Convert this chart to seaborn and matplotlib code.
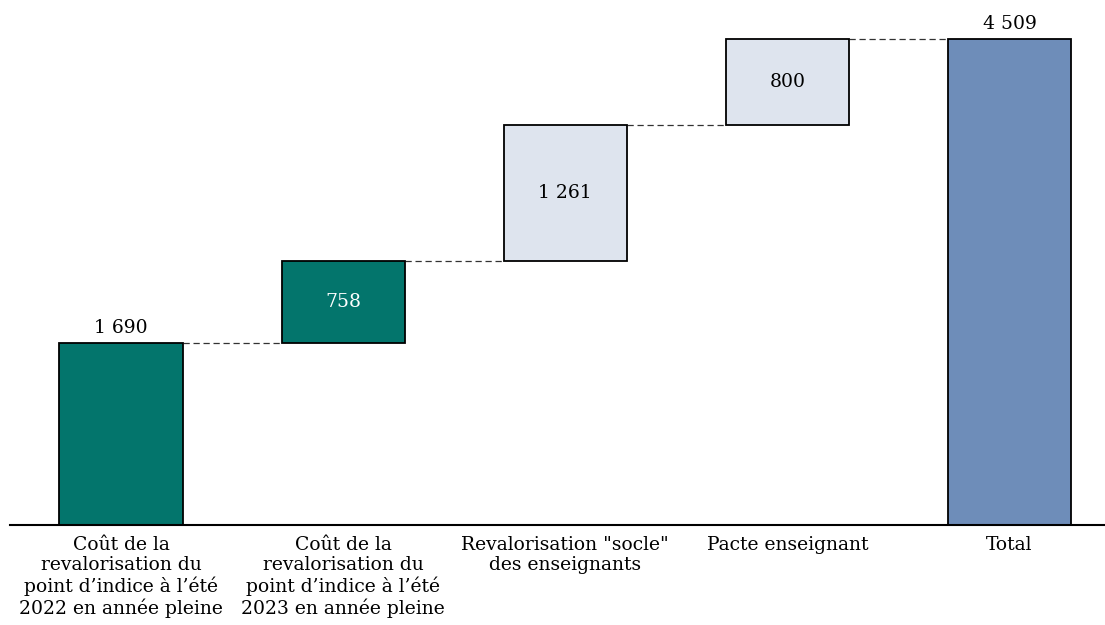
import matplotlib
matplotlib.use("Agg")
import matplotlib.pyplot as plt
import numpy as np
import seaborn as sns

# waterfall: cost of the measures (M EUR)
categories = [
    "Coût de la\nrevalorisation du\npoint d’indice à l’été\n2022 en année pleine",
    "Coût de la\nrevalorisation du\npoint d’indice à l’été\n2023 en année pleine",
    "Revalorisation \"socle\"\ndes enseignants",
    "Pacte enseignant",
    "Total",
]
steps = [1690, 758, 1261, 800]
total = 4509
value_labels = ["1 690", "758", "1 261", "800", "4 509"]
colors = ["#03756C", "#03756C", "#DEE4EE", "#DEE4EE", "#6E8DB9"]
text_colors = ["black", "white", "black", "black", "black"]

heights = steps + [total]
bottoms = list(np.concatenate([[0], np.cumsum(steps)[:-1]])) + [0]
tops = [b + h for b, h in zip(bottoms, heights)]

sns.set_style("white")
plt.rcParams["font.family"] = ["DejaVu Serif"]
plt.rcParams["text.color"] = "black"

fig = plt.figure(figsize=(11.05, 6.25), dpi=100)
ax = fig.add_axes([10 / 1105, 100 / 625, 1 - 10 / 1105, 525 / 625])

w = 0.555
sns.barplot(x=np.arange(5), y=heights, bottom=bottoms, width=w,
            color="white", edgecolor="black", linewidth=1.3, ax=ax,
            saturation=1, native_scale=True)
for p, c in zip(ax.patches, colors):
    p.set_facecolor(c)

for i in range(4):
    ax.plot([i + w / 2, i + 1 - w / 2], [tops[i], tops[i]], ls=(0, (5, 3)),
            color="#333333", lw=0.9, zorder=0)

fs = 13.5
for i, (lab, tc) in enumerate(zip(value_labels, text_colors)):
    if i in (0, 4):
        ax.text(i, tops[i] + 55, lab, ha="center", va="bottom", fontsize=fs, color=tc)
    else:
        ax.text(i, bottoms[i] + heights[i] / 2, lab, ha="center", va="center",
                fontsize=fs, color=tc)

ax.set_xlim(-0.5, 4.43)
ax.set_ylim(0, 4870)
ax.set_xticks(np.arange(5))
ax.set_xticklabels(categories, fontsize=fs, linespacing=1.15, color="black")
ax.tick_params(axis="x", length=0, pad=8)
ax.set_yticks([])
for s in ["top", "right", "left"]:
    ax.spines[s].set_visible(False)
ax.spines["bottom"].set_color("black")
ax.spines["bottom"].set_linewidth(1.5)

fig.savefig("out.png", dpi=100)
